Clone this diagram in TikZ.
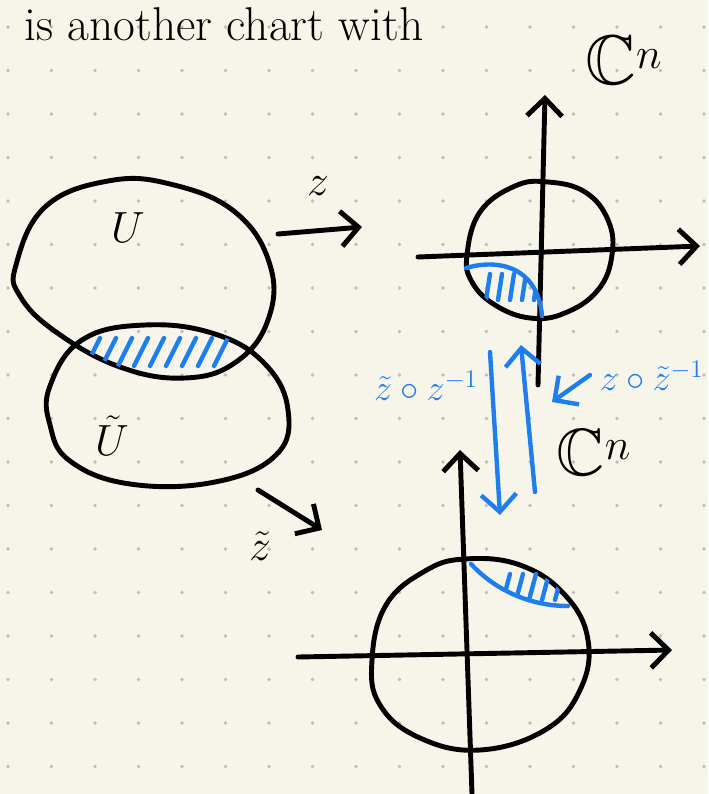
\documentclass[tikz,border=0pt]{standalone}
\usepackage{amssymb}
\usetikzlibrary{arrows.meta, positioning}

\definecolor{paper}{HTML}{F7F5EA}
\definecolor{pen}{HTML}{1E7EF0}
\definecolor{griddot}{HTML}{BEBEB6}

% blob outlines (pixel coordinates)
\def\Ublob{plot[smooth cycle, tension=0.7] coordinates {(16,265) (45,207) (108,181) (170,184) (235,212) (270,265) (268,320) (236,362) (185,378) (120,367) (56,332) (20,296)}}
\def\Utblob{plot[smooth cycle, tension=0.7] coordinates {(50,386) (82,340) (145,325) (215,334) (265,364) (288,410) (276,455) (215,482) (130,484) (70,461) (50,425)}}
\def\topdisc{plot[smooth cycle, tension=0.7] coordinates {(467,255) (480,212) (515,186) (548,182) (585,192) (608,220) (612,255) (598,290) (565,313) (530,318) (495,305) (472,282)}}
\def\lowdisc{plot[smooth cycle, tension=0.7] coordinates {(372,660) (386,605) (425,571) (465,559) (520,565) (565,595) (588,640) (580,690) (545,730) (480,750) (420,738) (380,705)}}

\begin{document}
\begin{tikzpicture}[x=0.02cm, y=-0.02cm,
    ink/.style={line width=2.8pt, line cap=round, line join=round},
    blueink/.style={ink, draw=pen, line width=2.5pt},
    barb/.style={-{Straight Barb[length=10pt, width=20pt]}},
    lbl/.style={inner sep=0pt, font=\fontsize{34}{36}\selectfont},
    bluelbl/.style={inner sep=0pt, text=pen, font=\fontsize{21}{23}\selectfont}]

  % paper and dot grid
  \fill[paper] (0,0) rectangle (708,794);
  \useasboundingbox (0,0) rectangle (708,794);
  \foreach \i in {0,...,16}
    \foreach \j in {0,...,17}
      \fill[griddot] (8+43.5*\i, 27+43.5*\j) circle (1.1pt);

  \node[lbl, anchor=north west, font=\fontsize{27}{29}\selectfont] (title) at (24,7) {is another chart with};

  % the two charts
  \draw[ink] \Ublob;
  \draw[ink] \Utblob;
  \begin{scope}
    \clip \Ublob;
    \clip \Utblob;
    \foreach \x in {86,102,...,214}
      \draw[blueink] (\x,366) -- ++(14,-28);
  \end{scope}
  \node[lbl] (U) at (128,228) {$U$};
  \node[lbl, font=\fontsize{30}{32}\selectfont] (Ut) at (112,436) {$\tilde U$};

  % chart maps
  \coordinate (zs) at (278,234);
  \coordinate (ze) at (362,227);
  \draw[ink, barb] (zs) -- (ze);
  \node[lbl] (z) at (318,186) {$z$};
  \coordinate (zts) at (258,490);
  \coordinate (zte) at (322,530);
  \draw[ink, barb] (zts) -- (zte);
  \node[lbl] (zt) at (260,546) {$\tilde z$};

  % upper copy of C^n
  \coordinate (ax1w) at (418,257);
  \coordinate (ax1e) at (700,246);
  \coordinate (ax1s) at (538,385);
  \coordinate (ax1n) at (545,95);
  \draw[ink, barb] (ax1w) -- (ax1e);
  \draw[ink, barb] (ax1s) -- (ax1n);
  \draw[ink] \topdisc;
  \begin{scope}
    \clip \topdisc;
    \clip (466,268) .. controls (500,258) and (538,268) .. (542,318) -- (460,330) -- cycle;
    \foreach \x in {486,498,...,534}
      \draw[blueink] (\x,300) -- ++(4,-26);
  \end{scope}
  \draw[blueink] (466,268) .. controls (500,258) and (538,268) .. (542,316);
  \node[lbl, font=\fontsize{40}{42}\selectfont] (C1) at (624,60) {$\mathbb{C}^n$};

  % lower copy of C^n
  \coordinate (ax2w) at (298,657);
  \coordinate (ax2e) at (672,650);
  \coordinate (ax2s) at (472,794);
  \coordinate (ax2n) at (460,450);
  \draw[ink, barb] (ax2w) -- (ax2e);
  \draw[ink, barb] (ax2s) -- (ax2n);
  \draw[ink] \lowdisc;
  \begin{scope}
    \clip \lowdisc;
    \clip (471,564) .. controls (495,590) and (530,606) .. (568,606) -- (590,540) -- (460,540) -- cycle;
    \foreach \x in {503,516,...,555}
      \draw[blueink] (\x,600) -- ++(7,-26);
  \end{scope}
  \draw[blueink] (471,564) .. controls (495,590) and (530,606) .. (568,606);
  \node[lbl, font=\fontsize{38}{40}\selectfont] (C2) at (594,452) {$\mathbb{C}^n$};

  % transition maps
  \coordinate (t1s) at (490,352);
  \coordinate (t1e) at (500,515);
  \coordinate (t2s) at (535,492);
  \coordinate (t2e) at (521,345);
  \draw[blueink, barb] (t1s) -- (t1e);
  \draw[blueink, barb] (t2s) -- (t2e);
  \node[bluelbl] (ta) at (426,386) {$\tilde z\circ z^{-1}$};
  \node[bluelbl, anchor=east] (tb) at (704,376) {$z\circ\tilde z^{-1}$};
  \coordinate (tbs) at (590,375);
  \coordinate (tbe) at (552,402);
  \draw[blueink, barb] (tbs) -- (tbe);
\end{tikzpicture}
\end{document}
